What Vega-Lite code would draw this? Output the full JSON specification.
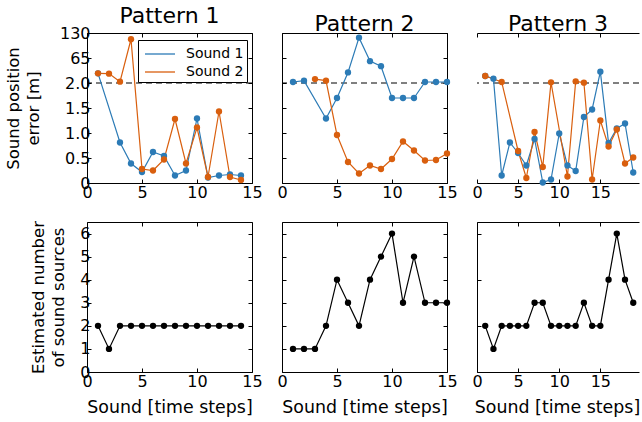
{
  "$schema": "https://vega.github.io/schema/vega-lite/v6.json",
  "padding": {"left": 5, "top": 5, "right": 0, "bottom": 2},
  "config": {
    "font": "DejaVu Sans",
    "view": {"stroke": null},
    "axis": {"labelFont": "DejaVu Sans", "labelFontSize": 16, "labelColor": "black", "titleFont": "DejaVu Sans", "titleFontSize": 16.5, "titleFontWeight": "normal", "titleColor": "black", "titleLineHeight": 19.5, "domainColor": "black", "tickColor": "black", "tickSize": -4, "grid": false, "labelFlush": false, "labelOverlap": false, "tickWidth": 1, "domainWidth": 1},
    "axisX": {"labelPadding": 5, "titleFontSize": 17.4},
    "axisY": {"labelPadding": 1},
    "title": {"font": "DejaVu Sans", "fontSize": 22, "fontWeight": "normal", "color": "black", "offset": -3.4, "baseline": "alphabetic"},
    "legend": {"labelFont": "DejaVu Sans", "labelFontSize": 14, "labelColor": "black"}
  },
  "datasets": {
    "err": [
      {"pattern": 1, "t": 1, "sound": "Sound 1", "err": 26.7},
      {"pattern": 1, "t": 3, "sound": "Sound 1", "err": 0.81},
      {"pattern": 1, "t": 4, "sound": "Sound 1", "err": 0.39},
      {"pattern": 1, "t": 5, "sound": "Sound 1", "err": 0.22},
      {"pattern": 1, "t": 6, "sound": "Sound 1", "err": 0.62},
      {"pattern": 1, "t": 7, "sound": "Sound 1", "err": 0.54},
      {"pattern": 1, "t": 8, "sound": "Sound 1", "err": 0.15},
      {"pattern": 1, "t": 9, "sound": "Sound 1", "err": 0.25},
      {"pattern": 1, "t": 10, "sound": "Sound 1", "err": 1.29},
      {"pattern": 1, "t": 11, "sound": "Sound 1", "err": 0.11},
      {"pattern": 1, "t": 12, "sound": "Sound 1", "err": 0.15},
      {"pattern": 1, "t": 13, "sound": "Sound 1", "err": 0.17},
      {"pattern": 1, "t": 14, "sound": "Sound 1", "err": 0.15},
      {"pattern": 1, "t": 1, "sound": "Sound 2", "err": 26.7},
      {"pattern": 1, "t": 2, "sound": "Sound 2", "err": 26},
      {"pattern": 1, "t": 3, "sound": "Sound 2", "err": 5.4},
      {"pattern": 1, "t": 4, "sound": "Sound 2", "err": 114},
      {"pattern": 1, "t": 5, "sound": "Sound 2", "err": 0.28},
      {"pattern": 1, "t": 6, "sound": "Sound 2", "err": 0.25},
      {"pattern": 1, "t": 7, "sound": "Sound 2", "err": 0.47},
      {"pattern": 1, "t": 8, "sound": "Sound 2", "err": 1.28},
      {"pattern": 1, "t": 9, "sound": "Sound 2", "err": 0.39},
      {"pattern": 1, "t": 10, "sound": "Sound 2", "err": 1.11},
      {"pattern": 1, "t": 11, "sound": "Sound 2", "err": 0.12},
      {"pattern": 1, "t": 12, "sound": "Sound 2", "err": 1.43},
      {"pattern": 1, "t": 13, "sound": "Sound 2", "err": 0.12},
      {"pattern": 1, "t": 14, "sound": "Sound 2", "err": 0.06},
      {"pattern": 2, "t": 1, "sound": "Sound 1", "err": 4.6},
      {"pattern": 2, "t": 2, "sound": "Sound 1", "err": 8},
      {"pattern": 2, "t": 4, "sound": "Sound 1", "err": 1.29},
      {"pattern": 2, "t": 5, "sound": "Sound 1", "err": 1.7},
      {"pattern": 2, "t": 6, "sound": "Sound 1", "err": 29},
      {"pattern": 2, "t": 7, "sound": "Sound 1", "err": 118},
      {"pattern": 2, "t": 8, "sound": "Sound 1", "err": 58},
      {"pattern": 2, "t": 9, "sound": "Sound 1", "err": 45},
      {"pattern": 2, "t": 10, "sound": "Sound 1", "err": 1.7},
      {"pattern": 2, "t": 11, "sound": "Sound 1", "err": 1.7},
      {"pattern": 2, "t": 12, "sound": "Sound 1", "err": 1.7},
      {"pattern": 2, "t": 13, "sound": "Sound 1", "err": 4.6},
      {"pattern": 2, "t": 14, "sound": "Sound 1", "err": 4.6},
      {"pattern": 2, "t": 15, "sound": "Sound 1", "err": 4.6},
      {"pattern": 2, "t": 3, "sound": "Sound 2", "err": 12},
      {"pattern": 2, "t": 4, "sound": "Sound 2", "err": 8},
      {"pattern": 2, "t": 5, "sound": "Sound 2", "err": 0.96},
      {"pattern": 2, "t": 6, "sound": "Sound 2", "err": 0.42},
      {"pattern": 2, "t": 7, "sound": "Sound 2", "err": 0.19},
      {"pattern": 2, "t": 8, "sound": "Sound 2", "err": 0.35},
      {"pattern": 2, "t": 9, "sound": "Sound 2", "err": 0.28},
      {"pattern": 2, "t": 10, "sound": "Sound 2", "err": 0.48},
      {"pattern": 2, "t": 11, "sound": "Sound 2", "err": 0.83},
      {"pattern": 2, "t": 12, "sound": "Sound 2", "err": 0.65},
      {"pattern": 2, "t": 13, "sound": "Sound 2", "err": 0.45},
      {"pattern": 2, "t": 14, "sound": "Sound 2", "err": 0.46},
      {"pattern": 2, "t": 15, "sound": "Sound 2", "err": 0.59},
      {"pattern": 3, "t": 1, "sound": "Sound 1", "err": 20},
      {"pattern": 3, "t": 2, "sound": "Sound 1", "err": 13},
      {"pattern": 3, "t": 3, "sound": "Sound 1", "err": 0.15},
      {"pattern": 3, "t": 4, "sound": "Sound 1", "err": 0.81},
      {"pattern": 3, "t": 5, "sound": "Sound 1", "err": 0.6},
      {"pattern": 3, "t": 6, "sound": "Sound 1", "err": 0.35},
      {"pattern": 3, "t": 7, "sound": "Sound 1", "err": 0.88},
      {"pattern": 3, "t": 8, "sound": "Sound 1", "err": 0.01},
      {"pattern": 3, "t": 9, "sound": "Sound 1", "err": 0.07},
      {"pattern": 3, "t": 10, "sound": "Sound 1", "err": 0.99},
      {"pattern": 3, "t": 11, "sound": "Sound 1", "err": 0.35},
      {"pattern": 3, "t": 12, "sound": "Sound 1", "err": 0.24},
      {"pattern": 3, "t": 13, "sound": "Sound 1", "err": 1.32},
      {"pattern": 3, "t": 14, "sound": "Sound 1", "err": 1.47},
      {"pattern": 3, "t": 15, "sound": "Sound 1", "err": 31},
      {"pattern": 3, "t": 16, "sound": "Sound 1", "err": 0.8},
      {"pattern": 3, "t": 17, "sound": "Sound 1", "err": 1.09},
      {"pattern": 3, "t": 18, "sound": "Sound 1", "err": 1.19},
      {"pattern": 3, "t": 19, "sound": "Sound 1", "err": 0.21},
      {"pattern": 3, "t": 1, "sound": "Sound 2", "err": 20},
      {"pattern": 3, "t": 3, "sound": "Sound 2", "err": 4.6},
      {"pattern": 3, "t": 5, "sound": "Sound 2", "err": 0.64},
      {"pattern": 3, "t": 6, "sound": "Sound 2", "err": 0.1},
      {"pattern": 3, "t": 7, "sound": "Sound 2", "err": 1.02},
      {"pattern": 3, "t": 8, "sound": "Sound 2", "err": 0.32},
      {"pattern": 3, "t": 9, "sound": "Sound 2", "err": 3.7},
      {"pattern": 3, "t": 11, "sound": "Sound 2", "err": 0.13},
      {"pattern": 3, "t": 12, "sound": "Sound 2", "err": 6.3},
      {"pattern": 3, "t": 13, "sound": "Sound 2", "err": 2.9},
      {"pattern": 3, "t": 14, "sound": "Sound 2", "err": 0.07},
      {"pattern": 3, "t": 15, "sound": "Sound 2", "err": 1.25},
      {"pattern": 3, "t": 16, "sound": "Sound 2", "err": 0.73},
      {"pattern": 3, "t": 17, "sound": "Sound 2", "err": 1.07},
      {"pattern": 3, "t": 18, "sound": "Sound 2", "err": 0.39},
      {"pattern": 3, "t": 19, "sound": "Sound 2", "err": 0.51}
    ],
    "num": [
      {"pattern": 1, "t": 1, "n": 2}, {"pattern": 1, "t": 2, "n": 1}, {"pattern": 1, "t": 3, "n": 2}, {"pattern": 1, "t": 4, "n": 2},
      {"pattern": 1, "t": 5, "n": 2}, {"pattern": 1, "t": 6, "n": 2}, {"pattern": 1, "t": 7, "n": 2}, {"pattern": 1, "t": 8, "n": 2},
      {"pattern": 1, "t": 9, "n": 2}, {"pattern": 1, "t": 10, "n": 2}, {"pattern": 1, "t": 11, "n": 2}, {"pattern": 1, "t": 12, "n": 2},
      {"pattern": 1, "t": 13, "n": 2}, {"pattern": 1, "t": 14, "n": 2},
      {"pattern": 2, "t": 1, "n": 1}, {"pattern": 2, "t": 2, "n": 1}, {"pattern": 2, "t": 3, "n": 1}, {"pattern": 2, "t": 4, "n": 2},
      {"pattern": 2, "t": 5, "n": 4}, {"pattern": 2, "t": 6, "n": 3}, {"pattern": 2, "t": 7, "n": 2}, {"pattern": 2, "t": 8, "n": 4},
      {"pattern": 2, "t": 9, "n": 5}, {"pattern": 2, "t": 10, "n": 6}, {"pattern": 2, "t": 11, "n": 3}, {"pattern": 2, "t": 12, "n": 5},
      {"pattern": 2, "t": 13, "n": 3}, {"pattern": 2, "t": 14, "n": 3}, {"pattern": 2, "t": 15, "n": 3},
      {"pattern": 3, "t": 1, "n": 2}, {"pattern": 3, "t": 2, "n": 1}, {"pattern": 3, "t": 3, "n": 2}, {"pattern": 3, "t": 4, "n": 2},
      {"pattern": 3, "t": 5, "n": 2}, {"pattern": 3, "t": 6, "n": 2}, {"pattern": 3, "t": 7, "n": 3}, {"pattern": 3, "t": 8, "n": 3},
      {"pattern": 3, "t": 9, "n": 2}, {"pattern": 3, "t": 10, "n": 2}, {"pattern": 3, "t": 11, "n": 2}, {"pattern": 3, "t": 12, "n": 2},
      {"pattern": 3, "t": 13, "n": 3}, {"pattern": 3, "t": 14, "n": 2}, {"pattern": 3, "t": 15, "n": 2}, {"pattern": 3, "t": 16, "n": 4},
      {"pattern": 3, "t": 17, "n": 6}, {"pattern": 3, "t": 18, "n": 4}, {"pattern": 3, "t": 19, "n": 3}
    ],
    "ref": [{"v": 2}]
  },
  "columns": 3,
  "bounds": "flush",
  "spacing": {"row": 39, "column": 30},
  "resolve": {"scale": {"color": "independent"}},
  "concat": [
    {
      "width": 165, "height": 150,
      "title": "Pattern 1",
      "layer": [
        {"data": {"name": "ref"}, "mark": {"type": "rule", "color": "black", "strokeWidth": 1, "strokeDash": [6, 4]},
         "encoding": {"y": {"field": "v", "type": "quantitative", "scale": {"domain": [0, 2, 130], "range": [150, 50, 0], "nice": false, "zero": false}, "axis": null}}},
        {"data": {"name": "err"}, "transform": [{"filter": "datum.pattern == 1"}],
         "mark": {"type": "line", "strokeWidth": 1.2},
         "encoding": {
           "x": {"field": "t", "type": "quantitative", "scale": {"domain": [0, 15], "nice": false}, "axis": {"title": null, "values": [0, 5, 10, 15], "orient": "bottom"}},
           "y": {"field": "err", "type": "quantitative", "scale": {"domain": [0, 2, 130], "range": [150, 50, 0], "nice": false, "zero": false},
                 "axis": {"title": ["Sound position", "error [m]"], "values": [0, 0.5, 1, 1.5, 2, 65, 130], "labelExpr": "datum.value > 0 && datum.value <= 2 ? format(datum.value, '.1f') : format(datum.value, 'd')", "orient": "left", "titlePadding": 18}},
           "color": {"field": "sound", "type": "nominal", "scale": {"domain": ["Sound 1", "Sound 2"], "range": ["#2c7bb6", "#d95f0e"]},
                     "legend": {"title": null, "orient": "none", "legendX": 51, "legendY": 7, "strokeColor": "black", "fillColor": "white", "padding": 3, "symbolType": "M-1.5,0H1.5", "symbolSize": 400, "symbolOffset": 8, "symbolStrokeWidth": 1.3, "rowPadding": 0, "labelOffset": 15, "cornerRadius": 0}}
         }},
        {"data": {"name": "err"}, "transform": [{"filter": "datum.pattern == 1"}],
         "mark": {"type": "point", "filled": true, "opacity": 1, "size": 40},
         "encoding": {
           "x": {"field": "t", "type": "quantitative", "axis": {"orient": "top", "labels": false, "title": null, "values": [0, 5, 10, 15]}},
           "y": {"field": "err", "type": "quantitative", "axis": {"orient": "right", "labels": false, "title": null, "values": [0, 0.5, 1, 1.5, 2, 65, 130]}},
           "color": {"field": "sound", "type": "nominal"}
         }}
      ]
    },
    {
      "width": 165, "height": 150,
      "title": "Pattern 2",
      "layer": [
        {"data": {"name": "ref"}, "mark": {"type": "rule", "color": "black", "strokeWidth": 1, "strokeDash": [6, 4]},
         "encoding": {"y": {"field": "v", "type": "quantitative", "scale": {"domain": [0, 2, 130], "range": [150, 50, 0], "nice": false, "zero": false}, "axis": null}}},
        {"data": {"name": "err"}, "transform": [{"filter": "datum.pattern == 2"}],
         "mark": {"type": "line", "strokeWidth": 1.2},
         "encoding": {
           "x": {"field": "t", "type": "quantitative", "scale": {"domain": [0, 15], "nice": false}, "axis": {"title": null, "values": [0, 5, 10, 15], "orient": "bottom"}},
           "y": {"field": "err", "type": "quantitative", "scale": {"domain": [0, 2, 130], "range": [150, 50, 0], "nice": false, "zero": false},
                 "axis": {"title": null, "labels": false, "values": [0, 0.5, 1, 1.5, 2, 65, 130], "orient": "left"}},
           "color": {"field": "sound", "type": "nominal", "scale": {"domain": ["Sound 1", "Sound 2"], "range": ["#2c7bb6", "#d95f0e"]}, "legend": null}
         }},
        {"data": {"name": "err"}, "transform": [{"filter": "datum.pattern == 2"}],
         "mark": {"type": "point", "filled": true, "opacity": 1, "size": 40},
         "encoding": {
           "x": {"field": "t", "type": "quantitative", "axis": {"orient": "top", "labels": false, "title": null, "values": [0, 5, 10, 15]}},
           "y": {"field": "err", "type": "quantitative", "axis": {"orient": "right", "labels": false, "title": null, "values": [0, 0.5, 1, 1.5, 2, 65, 130]}},
           "color": {"field": "sound", "type": "nominal", "legend": null}
         }}
      ]
    },
    {
      "width": 162, "height": 150,
      "title": "Pattern 3",
      "layer": [
        {"data": {"name": "ref"}, "mark": {"type": "rule", "color": "black", "strokeWidth": 1, "strokeDash": [6, 4]},
         "encoding": {"y": {"field": "v", "type": "quantitative", "scale": {"domain": [0, 2, 130], "range": [150, 50, 0], "nice": false, "zero": false}, "axis": null}}},
        {"data": {"name": "err"}, "transform": [{"filter": "datum.pattern == 3"}],
         "mark": {"type": "line", "strokeWidth": 1.2},
         "encoding": {
           "x": {"field": "t", "type": "quantitative", "scale": {"domain": [0, 19.7], "nice": false}, "axis": {"title": null, "values": [0, 5, 10, 15], "orient": "bottom"}},
           "y": {"field": "err", "type": "quantitative", "scale": {"domain": [0, 2, 130], "range": [150, 50, 0], "nice": false, "zero": false},
                 "axis": {"title": null, "labels": false, "values": [0, 0.5, 1, 1.5, 2, 65, 130], "orient": "left"}},
           "color": {"field": "sound", "type": "nominal", "scale": {"domain": ["Sound 1", "Sound 2"], "range": ["#2c7bb6", "#d95f0e"]}, "legend": null}
         }},
        {"data": {"name": "err"}, "transform": [{"filter": "datum.pattern == 3"}],
         "mark": {"type": "point", "filled": true, "opacity": 1, "size": 40},
         "encoding": {
           "x": {"field": "t", "type": "quantitative", "axis": {"orient": "top", "labels": false, "title": null, "values": [0, 5, 10, 15]}},
           "y": {"field": "err", "type": "quantitative"},
           "color": {"field": "sound", "type": "nominal", "legend": null}
         }}
      ]
    },
    {
      "width": 165, "height": 150,
      "data": {"name": "num"},
      "transform": [{"filter": "datum.pattern == 1"}],
      "layer": [
        {"mark": {"type": "line", "color": "black", "strokeWidth": 1.2},
         "encoding": {
           "x": {"field": "t", "type": "quantitative", "scale": {"domain": [0, 15], "nice": false}, "axis": {"title": "Sound [time steps]", "values": [0, 5, 10, 15], "orient": "bottom", "titlePadding": 9}},
           "y": {"field": "n", "type": "quantitative", "scale": {"domain": [0, 6.5], "nice": false}, "axis": {"title": ["Estimated number", "of sound sources"], "values": [0, 1, 2, 3, 4, 5, 6], "orient": "left", "titlePadding": 13.5}}
         }},
        {"mark": {"type": "point", "filled": true, "opacity": 1, "size": 40, "color": "black"},
         "encoding": {
           "x": {"field": "t", "type": "quantitative", "axis": {"orient": "top", "labels": false, "title": null, "values": [0, 5, 10, 15]}},
           "y": {"field": "n", "type": "quantitative", "axis": {"orient": "right", "labels": false, "title": null, "values": [0, 1, 2, 3, 4, 5, 6]}}
         }}
      ]
    },
    {
      "width": 165, "height": 150,
      "data": {"name": "num"},
      "transform": [{"filter": "datum.pattern == 2"}],
      "layer": [
        {"mark": {"type": "line", "color": "black", "strokeWidth": 1.2},
         "encoding": {
           "x": {"field": "t", "type": "quantitative", "scale": {"domain": [0, 15], "nice": false}, "axis": {"title": "Sound [time steps]", "values": [0, 5, 10, 15], "orient": "bottom", "titlePadding": 9}},
           "y": {"field": "n", "type": "quantitative", "scale": {"domain": [0, 6.5], "nice": false}, "axis": {"title": null, "labels": false, "values": [0, 1, 2, 3, 4, 5, 6], "orient": "left"}}
         }},
        {"mark": {"type": "point", "filled": true, "opacity": 1, "size": 40, "color": "black"},
         "encoding": {
           "x": {"field": "t", "type": "quantitative", "axis": {"orient": "top", "labels": false, "title": null, "values": [0, 5, 10, 15]}},
           "y": {"field": "n", "type": "quantitative", "axis": {"orient": "right", "labels": false, "title": null, "values": [0, 1, 2, 3, 4, 5, 6]}}
         }}
      ]
    },
    {
      "width": 162, "height": 150,
      "data": {"name": "num"},
      "transform": [{"filter": "datum.pattern == 3"}],
      "layer": [
        {"mark": {"type": "line", "color": "black", "strokeWidth": 1.2},
         "encoding": {
           "x": {"field": "t", "type": "quantitative", "scale": {"domain": [0, 19.7], "nice": false}, "axis": {"title": "Sound [time steps]", "values": [0, 5, 10, 15], "orient": "bottom", "titlePadding": 9, "titleX": 80}},
           "y": {"field": "n", "type": "quantitative", "scale": {"domain": [0, 6.5], "nice": false}, "axis": {"title": null, "labels": false, "values": [0, 1, 2, 3, 4, 5, 6], "orient": "left"}}
         }},
        {"mark": {"type": "point", "filled": true, "opacity": 1, "size": 40, "color": "black"},
         "encoding": {
           "x": {"field": "t", "type": "quantitative", "axis": {"orient": "top", "labels": false, "title": null, "values": [0, 5, 10, 15]}},
           "y": {"field": "n", "type": "quantitative"}
         }}
      ]
    }
  ]
}
